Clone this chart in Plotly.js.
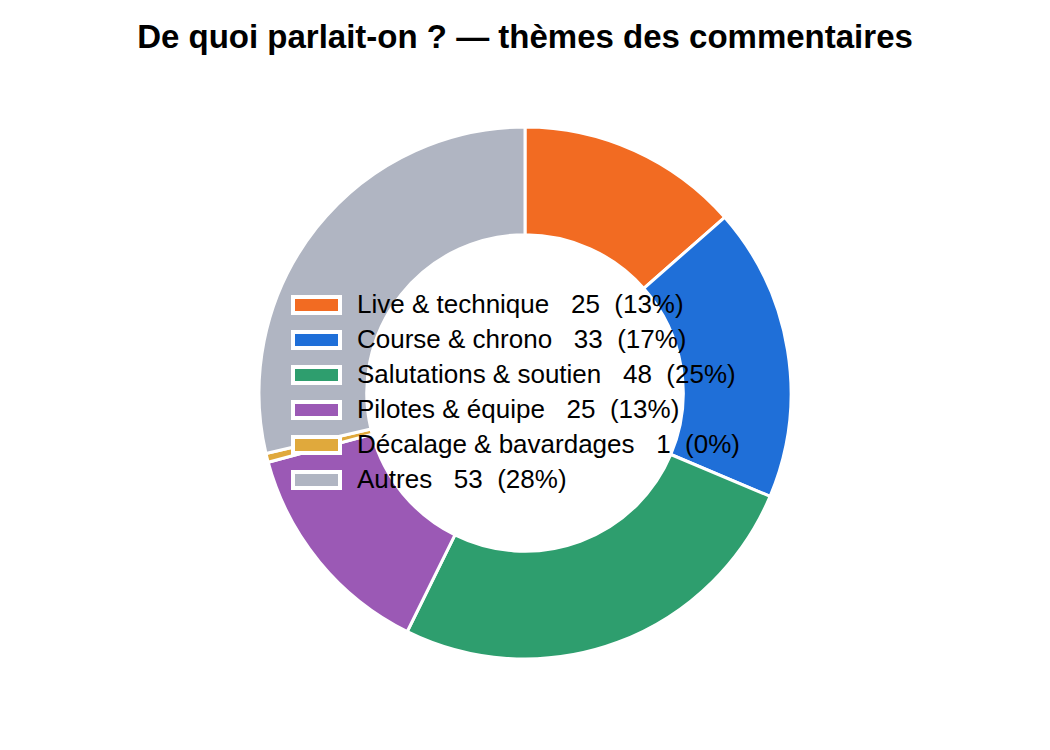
<!doctype html>
<html lang="fr">
<head>
    <meta charset="UTF-8">
    <title>Thèmes des commentaires</title>
    <script src="https://cdn.plot.ly/plotly-3.0.1.min.js"></script>
    <style>
        body { margin: 0; background: white; }
        #chart { width: 1050px; height: 750px; }
    </style>
</head>
<body>
    <div id="chart"></div>
    <script>
        // data
        var themes = ['Live & technique', 'Course & chrono', 'Salutations & soutien',
                      'Pilotes & équipe', 'Décalage & bavardages', 'Autres'];
        var counts = [25, 33, 48, 25, 1, 53];
        var colors = ['#F26B22', '#1F6FD8', '#2E9E6E', '#9B59B5', '#E0A93C', '#B0B5C2'];

        var W = 1050, H = 750;
        var M = { t: 127, b: 91, l: 80, r: 80 };

        var total = counts.reduce(function (a, b) { return a + b; }, 0);
        var sp = '\u00a0';
        var names = themes.map(function (t, i) {
            var pct = Math.floor(counts[i] / total * 100);
            return t + sp + sp + sp + counts[i] + sp + sp + '(' + pct + '%)';
        });

        var trace = {
            type: 'pie',
            labels: names,
            values: counts,
            hole: 0.595,
            sort: false,
            direction: 'clockwise',
            rotation: 0,
            textinfo: 'none',
            hoverinfo: 'label',
            marker: { colors: colors, line: { color: 'white', width: 3 } }
        };

        // legend drawn as wide swatches + text (plotly pie swatches are tiny squares)
        function px2x(px) { return (px - M.l) / (W - M.l - M.r); }
        function px2y(py) { return (H - M.b - py) / (H - M.t - M.b); }
        var shapes = [], annotations = [];
        names.forEach(function (n, i) {
            var cy = 305 + 35 * i;
            shapes.push({
                type: 'rect', xref: 'paper', yref: 'paper',
                x0: px2x(293), x1: px2x(340), y0: px2y(cy + 8), y1: px2y(cy - 8),
                fillcolor: colors[i], line: { color: 'white', width: 4 }
            });
            annotations.push({
                xref: 'paper', yref: 'paper', x: px2x(355), y: px2y(cy - 1),
                xanchor: 'left', yanchor: 'middle', showarrow: false,
                text: n, font: { size: 26, color: '#000' }
            });
        });

        var layout = {
            width: W,
            height: H,
            font: { family: '"Liberation Sans", Arial, sans-serif', color: '#000' },
            title: {
                text: '<b>De quoi parlait-on ? — thèmes des commentaires</b>',
                font: { size: 33, color: '#000' },
                x: 0.5, xanchor: 'center',
                y: 0.952, yref: 'container', yanchor: 'middle'
            },
            margin: M,
            showlegend: false,
            shapes: shapes,
            annotations: annotations,
            paper_bgcolor: 'white'
        };

        Plotly.newPlot('chart', [trace], layout, { displayModeBar: false });
    </script>
</body>
</html>
